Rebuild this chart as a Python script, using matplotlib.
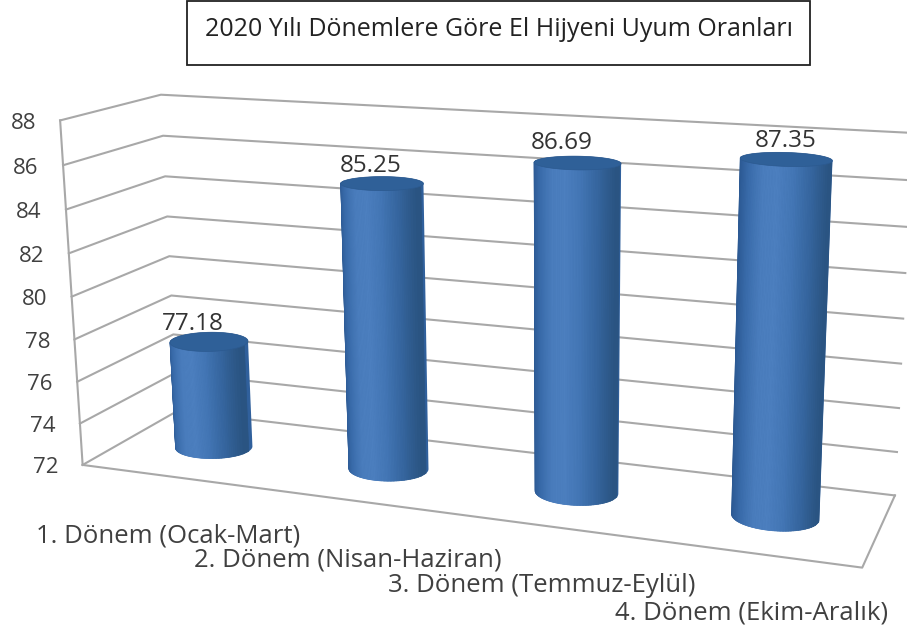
import numpy as np
import matplotlib.pyplot as plt
from matplotlib.colors import LinearSegmentedColormap
from matplotlib.collections import PolyCollection
from matplotlib.patches import Polygon, Rectangle

plt.rcParams['font.family'] = ['Open Sans', 'DejaVu Sans']

title = "2020 Yılı Dönemlere Göre El Hijyeni Uyum Oranları"
categories = ["1. Dönem (Ocak-Mart)", "2. Dönem (Nisan-Haziran)",
              "3. Dönem (Temmuz-Eylül)", "4. Dönem (Ekim-Aralık)"]
values = [77.18, 85.25, 86.69, 87.35]
value_labels = ["77.18", "85.25", "86.69", "87.35"]
ticks = [72, 74, 76, 78, 80, 82, 84, 86, 88]

# box corners (category, depth, value) and where they sit in the picture
box_world = [(0, 1, 88), (4, 1, 88), (4, 1, 72), (0, 1, 72), (0, 0, 88), (0, 0, 72), (4, 0, 72)]
box_pixel = [(160, 95), (912, 133), (895, 495), (178, 411), (61, 120), (82, 465), (862, 568)]

# small nudges so the bars and their labels land where they do in the original
bar_centres = [0.5, 1.51, 2.52, 3.51]
label_dx = [-16, -11, -16, 0]
label_dy = [-18, -17, -20, -18]


def fitProjection(world, pixel):
    rows = []
    for (c, d, v), (x, y) in zip(world, pixel):
        p = [c, d, (v - 72) / 16, 1]
        rows.append(p + [0, 0, 0, 0] + [-x * k for k in p])
        rows.append([0, 0, 0, 0] + p + [-y * k for k in p])
    return np.linalg.svd(np.array(rows, float))[2][-1].reshape(3, 4)


P = fitProjection(box_world, box_pixel)


def project(c, d, v):
    c, d, v = np.broadcast_arrays(np.asarray(c, float), np.asarray(d, float), np.asarray(v, float))
    w = P @ np.stack([c, d, (v - 72) / 16, np.ones_like(c)])
    return w[0] / w[2], w[1] / w[2]


def cross2(a, b):
    return a[0] * b[1] - a[1] * b[0]


def hull(points):
    pts = sorted(set(map(tuple, np.round(points, 3))))
    def half(seq):
        out = []
        for p in seq:
            while len(out) > 1 and cross2(np.subtract(out[-1], out[-2]), np.subtract(p, out[-2])) <= 0:
                out.pop()
            out.append(p)
        return out[:-1]
    return half(pts) + half(pts[::-1])


def drawCylinder(ax, c, value, rc=0.207, rd=0.19, dc=0.5):
    cmap = LinearSegmentedColormap.from_list('cyl', ['#2a5790', '#3a6cab', '#4a7dbd', '#4c7fbf', '#4376b5', '#36669f', '#29527f'])
    a = np.linspace(0, 2 * np.pi, 120)
    top = np.column_stack(project(c + rc * np.cos(a), dc + rd * np.sin(a), value))
    bottom = np.column_stack(project(c + rc * np.cos(a), dc + rd * np.sin(a), 72))
    ax.add_patch(Polygon(hull(np.vstack([top, bottom])), closed=True, fc='#30609c', ec='none', zorder=3))
    u = np.linspace(-1, 1, 61)
    front = dc - rd * np.sqrt(1 - u ** 2)
    tx, ty = project(c + rc * u, front, value)
    bx, by = project(c + rc * u, front, 72)
    quads = [[(tx[i], ty[i]), (tx[i + 1], ty[i + 1]), (bx[i + 1], by[i + 1]), (bx[i], by[i])] for i in range(60)]
    ax.add_collection(PolyCollection(quads, array=(u[:-1] + 1) / 2, cmap=cmap, clim=(0, 1),
                                     edgecolors='face', linewidths=0.5, zorder=4))
    ax.add_patch(Polygon(top, closed=True, fc='#2f6098', ec='#2c5a90', lw=0.5, zorder=5))


def plotChart():
    fig = plt.figure(figsize=(9.07, 6.27), dpi=100)
    ax = fig.add_axes([0, 0, 1, 1])
    ax.set_xlim(0, 907)
    ax.set_ylim(627, 0)
    ax.axis('off')
    grid = '#a8a8a8'

    for v in ticks:
        x, y = project([0, 0, 4], [0, 1, 1], v)
        ax.plot(x, y, color=grid, lw=1.5, zorder=1)
        ax.text(x[0] - 37, y[0] + 3, str(v), fontsize=16, color='#404040', ha='center', va='center')
    x, y = project([0, 0], [0, 0], [72, 88])
    ax.plot(x, y, color=grid, lw=1.5, zorder=1)
    x, y = project([0, 4, 4], [0, 0, 1], 72)
    ax.plot(x, y, color=grid, lw=1.5, zorder=1)

    for i, v in enumerate(values):
        c = bar_centres[i]
        drawCylinder(ax, c, v)
        x, y = project(c, 0.5, v)
        ax.text(x + label_dx[i], y + label_dy[i], value_labels[i], fontsize=17.5, color='#333333', ha='center', va='center', zorder=6)
        x, y = project(i + 0.5, 0, 72)
        ax.text(x + 1, y + 60, categories[i], fontsize=18.5, color='#404040', ha='center', va='center')

    ax.add_patch(Rectangle((187, 1), 623, 64, fc='white', ec='#222222', lw=1.3, zorder=6))
    ax.text(499, 30, title, fontsize=18, color='#222222', ha='center', va='center', zorder=7)

    plt.savefig('out.png', dpi=100)


if __name__ == '__main__':
    plotChart()
